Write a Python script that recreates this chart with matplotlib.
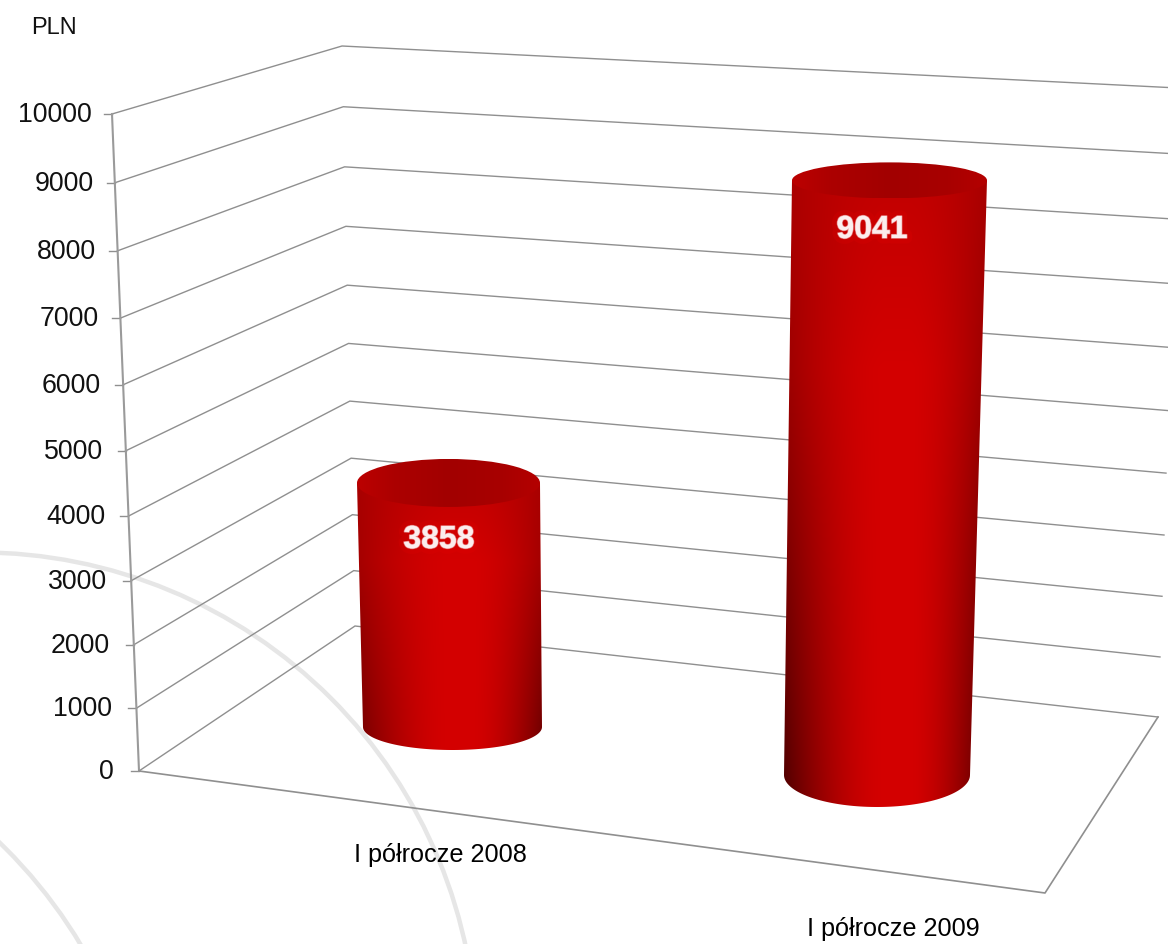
import numpy as np
import matplotlib
matplotlib.use("Agg")
import matplotlib.pyplot as plt
import matplotlib.patheffects as pe
from matplotlib.colors import LinearSegmentedColormap
from matplotlib.patches import Circle, Ellipse, PathPatch
from matplotlib.path import Path

plt.rcParams['font.family'] = ['Liberation Sans', 'DejaVu Sans']

# Data
categories = ["I półrocze 2008", "I półrocze 2009"]
values = [3858, 9041]
tick_values = [0, 1000, 2000, 3000, 4000, 5000, 6000, 7000, 8000, 9000, 10000]
unit = "PLN"
VMAX = 10000.0

# Projection (pixel geometry of the 3D scene)
PERSP = -0.05
LEFT = dict(x0=139, x1=112, y0=771, y1=114)
BACK = dict(x0=355, x1=342, y0=626, y1=46)
RIGHT = dict(x0=1158, x1=1178, y0=717, y1=88)
FRONT_FLOOR = (1045, 893)
BARS = [
    dict(base_y=727, full_y=74, xl0=363, xr0=542, xl1=357, xr1=540, ry0=23, ry1=24,
         label_xy=(439, 540), cat_xy=(440, 855), edge_dark=0.30),
    dict(base_y=775, full_y=114, xl0=784, xr0=970, xl1=792, xr1=987, ry0=32, ry1=18,
         label_xy=(872, 230), cat_xy=(893, 929), edge_dark=0.42),
]


def project(v, y0, y1):
    t = v / VMAX
    return (y0 + (y1 * (1 + PERSP) - y0) * t) / (1 + PERSP * t)


def wall(v, e):
    t = v / VMAX
    return e['x0'] + (e['x1'] - e['x0']) * t, project(v, e['y0'], e['y1'])


def side_shading(edge_dark):
    u = np.linspace(0, 1, 256)
    w = np.linspace(0, 1, 200)[:, None]
    f = np.maximum(np.clip(1 - u / 0.5, 0, 1), np.clip((u - 0.62) / 0.38, 0, 1)) ** 1.7
    depth = 0.10 + edge_dark * w
    centre = 0.76 + 0.07 * np.clip(w / 0.3, 0, 1)
    red = np.clip(centre - depth * f, 0, 1)
    return np.dstack([red, np.zeros_like(red), np.zeros_like(red)])


fig = plt.figure(figsize=(11.68, 9.44), dpi=100, facecolor='white')
ax = fig.add_axes([0, 0, 1, 1])
W, H = 1168, 944

# Faint background arcs
for c, r in [((-21, 1050), 497.6), ((-348, 1202), 500)]:
    ax.add_patch(Circle(c, r, fill=False, ec='#e6e6e6', lw=3.2, zorder=1))

GRID = '#8f8f8f'
# Walls, floor and ticks
for v in tick_values:
    pts = [wall(v, LEFT), wall(v, BACK), wall(v, RIGHT)]
    ax.plot(*zip(*pts), color=GRID, lw=1.0, zorder=2, solid_joinstyle='miter')
    lx, ly = pts[0]
    ax.plot([lx - 8, lx], [ly, ly], color=GRID, lw=1.0, zorder=2)
    t = v / VMAX
    ax.text(lx - 20 - 5 * (1 - t), ly + 1, str(v), ha='right', va='center',
            fontsize=19.3, color='#111111', zorder=6)

ax.plot(*zip(wall(0, LEFT), wall(VMAX, LEFT)), color='#9a9a9a', lw=1.5, zorder=2)
floor = [wall(0, LEFT), FRONT_FLOOR, wall(0, RIGHT)]
ax.plot(*zip(*floor), color=GRID, lw=1.2, zorder=2)

# Cylinders
top_cmap = LinearSegmentedColormap.from_list(
    'top', [(0, '#bc0000'), (0.2, '#ac0000'), (0.5, '#a20000'), (0.8, '#a80000'), (1, '#b40000')])
grad = np.linspace(0, 1, 256).reshape(1, -1)

for b, val, cat in zip(BARS, values, categories):
    ty = project(val, b['base_y'], b['full_y'])
    by = b['base_y']
    # Side silhouette with an elliptical bottom
    th = np.linspace(np.pi, 0, 80)
    cx0 = (b['xl0'] + b['xr0']) / 2
    rx0 = (b['xr0'] - b['xl0']) / 2
    arc = np.c_[cx0 + rx0 * np.cos(th), by + b['ry0'] * np.sin(th)]
    verts = np.vstack([[(b['xl1'], ty)], arc, [(b['xr1'], ty)], [(b['xl1'], ty)]])
    clip = PathPatch(Path(verts, closed=True), transform=ax.transData, fc='none', ec='none')
    ax.add_patch(clip)
    im = ax.imshow(side_shading(b['edge_dark']), aspect='auto', zorder=3, interpolation='bilinear',
                   extent=[min(b['xl0'], b['xl1']), max(b['xr0'], b['xr1']), by + b['ry0'] + 2, ty - 2])
    im.set_clip_path(clip)
    # Top ellipse
    cx1 = (b['xl1'] + b['xr1']) / 2
    rx1 = (b['xr1'] - b['xl1']) / 2
    ell = Ellipse((cx1, ty), 2 * rx1, 2 * b['ry1'], fc='none', ec='none', transform=ax.transData)
    ax.add_patch(ell)
    im2 = ax.imshow(grad, cmap=top_cmap, aspect='auto', zorder=4, interpolation='bilinear',
                    extent=[b['xl1'], b['xr1'], ty + b['ry1'], ty - b['ry1']])
    im2.set_clip_path(ell)
    # Value label
    ax.text(*b['label_xy'], str(val), ha='center', va='center',
            fontsize=23, fontweight='bold', color='#fbeeee', zorder=5,
            path_effects=[pe.withStroke(linewidth=8, foreground='#e60000', alpha=0.2),
                          pe.withStroke(linewidth=1.2, foreground='#efa8a8', alpha=0.7)])
    # Category label
    ax.text(*b['cat_xy'], cat, ha='center', va='center', fontsize=18.2, color='black', zorder=6)

ax.text(31, 28.5, unit, ha='left', va='center', fontsize=17, color='#111111', zorder=6)

ax.set_xlim(0, W)
ax.set_ylim(H, 0)
ax.axis('off')
fig.savefig('out.png', dpi=100, facecolor='white')
